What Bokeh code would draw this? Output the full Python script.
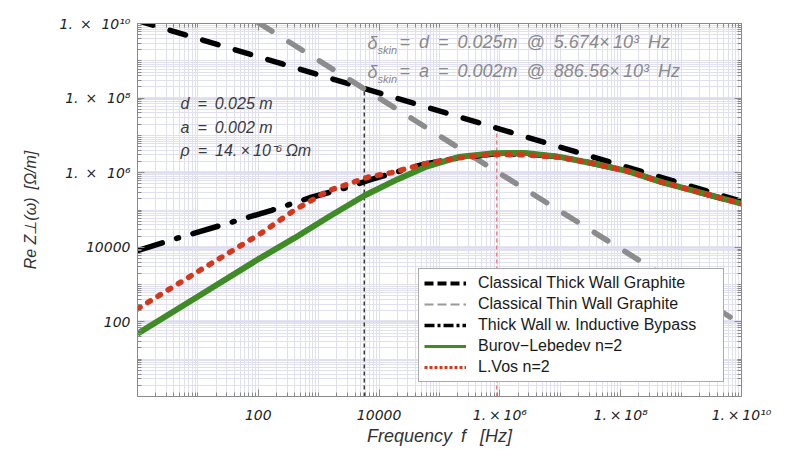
import numpy as np
from bokeh.plotting import figure
from bokeh.models import (Range1d, FixedTicker, LogAxis, Legend, LegendItem, Label,
                          CustomJSTickFormatter)
from bokeh.embed import file_html
from bokeh.resources import INLINE

# ---------------- data ----------------
thick_f = [1, 1e2, 1e4, 1e6, 1e8, 1e10]
thick_z = [1.2e10, 1.29e9, 1.38e8, 1.48e7, 1.58e6, 1.7e5]

thin_f = [1e2, 1e4, 1e6, 1e8, 1e10]
thin_z = [1.05e10, 1.0e8, 9.5e5, 9.1e3, 87]

bypass_f = [1, 4.7, 41, 166, 760, 3100, 6600, 1.6e4, 5.75e4, 2.05e5, 7.2e5,
            2.6e6, 9.3e6, 3.7e7, 1.3e8, 4.8e8, 1.7e9, 1e10]
bypass_z = [8100, 1.78e4, 5.0e4, 9.8e4, 2.2e5, 4.1e5, 6.2e5, 9.5e5, 1.72e6,
            2.5e6, 3.1e6, 3.2e6, 2.7e6, 1.74e6, 1.1e6, 5.6e5, 3.2e5, 1.48e5]

burov_f = [1, 10, 100, 400, 1450, 5750, 2.0e4, 5.75e4, 2.05e5, 7.2e5, 2.6e6,
           9.3e6, 3.7e7, 1.3e8, 4.8e8, 1.7e9, 1e10]
burov_z = [48, 480, 4800, 1.78e4, 6.5e4, 2.45e5, 6.6e5, 1.41e6, 2.63e6, 3.3e6,
           3.4e6, 2.7e6, 1.74e6, 1.1e6, 5.6e5, 3.2e5, 1.48e5]

vos_f = [1, 10, 112, 400, 1450, 3100, 6600, 1.6e4, 5.75e4, 2.05e5, 7.2e5,
         2.6e6, 9.3e6, 3.7e7, 1.3e8, 4.8e8, 1.7e9, 1e10]
vos_z = [224, 2240, 2.4e4, 1.0e5, 3.3e5, 5.0e5, 7.6e5, 1.0e6, 1.74e6, 2.5e6,
         3.1e6, 3.0e6, 2.6e6, 1.74e6, 1.1e6, 5.6e5, 3.2e5, 1.48e5]

skin_f = [5674, 886.56e3]
skin_colors = ["#222222", "#f07878"]

tick_values = [1e2, 1e4, 1e6, 1e8, 1e10]
tick_labels_x = ["100", "10000", "1.\u2009×\u200910\u2076", "1.\u2009×\u200910\u2078",
                 "1.\u2009×\u200910\u00b9\u2070"]
tick_labels_y = ["100", "10000", "1.\u2002×\u2002\u200910\u2076",
                 "1.\u2002×\u2002\u200910\u2078", "1.\u2002×\u2002\u200910\u00b9\u2070"]

series_labels = ["Classical Thick Wall Graphite", "Classical Thin Wall Graphite",
                 "Thick Wall w. Inductive Bypass", "Burov\u2212Lebedev n=2", "L.Vos n=2"]

FONT = "Liberation Sans"
TICK_FONT = "DejaVu Sans"

# ---------------- figure ----------------
p = figure(width=794, height=450, x_axis_type="log", y_axis_type="log",
           x_range=Range1d(1, 1e10), y_range=Range1d(1, 1e10),
           output_backend="svg", toolbar_location=None,
           min_border_left=137, min_border_right=53, min_border_top=23,
           min_border_bottom=54)
p.outline_line_color = "#8a8a8a"
p.background_fill_color = "white"

minor = [m * 10.0 ** k for k in range(0, 10) for m in range(1, 10)] + [1e10]


def make_formatter(texts):
    m = {str(int(v)): t for v, t in zip(tick_values, texts)}
    return CustomJSTickFormatter(args=dict(m=m),
                                 code="const k = String(Math.round(tick)); return (k in m) ? m[k] : '';")


fmt_blank = CustomJSTickFormatter(code="return '';")


def style_axis(ax, formatter=None):
    ax.ticker = FixedTicker(ticks=tick_values, minor_ticks=minor)
    ax.axis_line_color = "#8a8a8a"
    ax.major_tick_line_color = "#8a8a8a"
    ax.minor_tick_line_color = "#8a8a8a"
    ax.major_tick_in = 7
    ax.major_tick_out = 0
    ax.minor_tick_in = 4
    ax.minor_tick_out = 0
    ax.major_label_text_font = TICK_FONT
    ax.major_label_text_font_style = "italic"
    ax.major_label_text_font_size = "14px"
    ax.major_label_text_color = "#222222"
    if formatter is not None:
        ax.formatter = formatter
        ax.axis_label_text_font = FONT
        ax.axis_label_text_font_style = "italic"
        ax.axis_label_text_font_size = "18px"
        ax.axis_label_text_color = "#333333"
    else:
        ax.formatter = fmt_blank
        ax.major_label_standoff = 0


style_axis(p.xaxis[0], make_formatter(tick_labels_x))
style_axis(p.yaxis[0], make_formatter(tick_labels_y))
p.xaxis[0].axis_label = "Frequency\u2002f\u2002 [Hz]"
p.yaxis[0].axis_label = "Re Z\u22a5(\u03c9)\u2002[\u03a9/m]"
p.yaxis[0].axis_label_text_font_size = "16px"
p.xaxis[0].major_label_standoff = 10
p.xaxis[0].axis_label_standoff = 0
p.yaxis[0].major_label_standoff = 7
p.yaxis[0].axis_label_standoff = 18

ax_r = LogAxis()
style_axis(ax_r)
p.add_layout(ax_r, "right")
ax_t = LogAxis()
style_axis(ax_t)
p.add_layout(ax_t, "above")

p.xgrid[0].grid_line_color = "#dedeef"
p.xgrid[0].grid_line_width = 1
p.ygrid[0].grid_line_color = "#dcdcee"
p.ygrid[0].grid_line_width = 2.5
for g in (p.xgrid[0], p.ygrid[0]):
    g.minor_grid_line_color = "#e0e0f0"
    g.minor_grid_line_width = 1

# ---------------- skin depth markers ----------------
tops = 10 ** np.interp(np.log10(skin_f), np.log10(thick_f), np.log10(thick_z))
p.segment(x0=skin_f, y0=[p.y_range.start] * 2, x1=skin_f, y1=list(tops),
          line_color=skin_colors, line_width=1.3, line_dash="4 3")

# ---------------- curves ----------------
p.line(thick_f, thick_z, line_color="black", line_width=5.5, line_dash="16 18",
       line_cap="round")
p.line(thin_f, thin_z, line_color="#8c8c8c", line_width=5.5, line_dash="16 20",
       line_cap="round")
p.line(bypass_f, bypass_z, line_color="black", line_width=5.5,
       line_dash="26 15 2 15", line_cap="round")
p.line(burov_f, burov_z, line_color="#3f8c26", line_width=6)
p.line(vos_f, vos_z, line_color="#d4381c", line_width=5.5, line_dash="3 9",
       line_cap="round")

# ---------------- legend (sample glyphs) ----------------
l1 = p.line([1], [1], line_color="black", line_width=4, line_dash="9 4")
l2 = p.line([1], [1], line_color="#9a9a9a", line_width=2, line_dash="9 4")
l3 = p.line([1], [1], line_color="black", line_width=3.5, line_dash="10 3 3 3")
l4 = p.line([1], [1], line_color="#3f8c26", line_width=3)
l5 = p.line([1], [1], line_color="#d4381c", line_width=3, line_dash="3 2")
legend = Legend(items=[LegendItem(label=t, renderers=[r]) for t, r in
                       zip(series_labels, [l1, l2, l3, l4, l5])],
                location=(281, 14), label_text_font=FONT,
                label_text_font_size="16px", label_text_color="#1a1a1a",
                glyph_width=42, glyph_height=18, label_height=18, label_width=240,
                label_standoff=12, spacing=3, padding=5,
                border_line_color="#555555", border_line_width=1,
                background_fill_color="white", background_fill_alpha=1.0)
p.add_layout(legend)

# ---------------- annotations ----------------
FX0, FX1, FY0, FY1 = 137, 741, 396, 23   # page pixels of the frame


def fx(px):
    return 10 ** ((px - FX0) / (FX1 - FX0) * 10)


def fy(py):
    return 10 ** ((FY0 - py) / (FY0 - FY1) * 10)


def add_text(px, py, text, size="16px", color="#3a3a3a"):
    p.add_layout(Label(x=fx(px), y=fy(py), text=text, text_font=FONT,
                       text_font_style="italic", text_font_size=size,
                       text_color=color, text_baseline="middle",
                       text_align="left"))


add_text(180, 103, "d\u2002=\u20020.025 m")
add_text(180, 127, "a\u2002=\u20020.002 m")
add_text(180, 150, "\u03c1\u2002=\u200214.\u2009×\u200910\u207b\u2076\u2009\u03a9m")

GREY = "#8a8a8a"
add_text(367, 42, "\u03b4", size="18px", color=GREY)
add_text(377, 49, "skin", size="11px", color=GREY)
add_text(399, 41, "=\u2002d\u2002=\u20020.025m\u2002@\u20025.674×\u200910\u00b3\u2002Hz",
         size="18px", color=GREY)
add_text(367, 71, "\u03b4", size="18px", color=GREY)
add_text(377, 78, "skin", size="11px", color=GREY)
add_text(399, 70, "=\u2002a\u2002=\u20020.002m\u2002@\u2002886.56×\u200910\u00b3\u2002Hz",
         size="18px", color=GREY)

open("out.html", "w").write(file_html(p, INLINE))
